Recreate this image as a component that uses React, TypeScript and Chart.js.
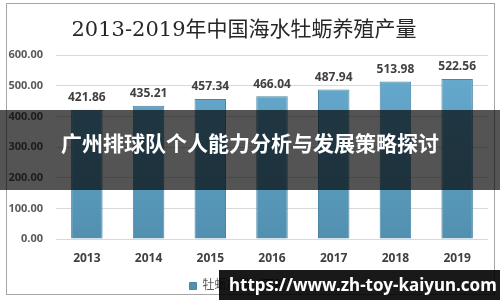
import React, { useEffect, useRef } from "react";
import { Chart, registerables } from "chart.js";

Chart.register(...registerables);

const titleText = "2013-2019年中国海水牡蛎养殖产量";
const categories = ["2013", "2014", "2015", "2016", "2017", "2018", "2019"];
const seriesName = "牡蛎产量（万吨）";
const values = [421.86, 435.21, 457.34, 466.04, 487.94, 513.98, 522.56];
const yMin = 0;
const yMax = 600;
const yStep = 100;
const bannerText = "广州排球队个人能力分析与发展策略探讨";
const watermarkText = "https://www.zh-toy-kaiyun.com";

const FONT = "'Open Sans', 'Noto Sans CJK SC', sans-serif";

const valueLabelPlugin = {
  id: "valueLabels",
  afterDatasetsDraw(chart: any) {
    const ctx = chart.ctx;
    const meta = chart.getDatasetMeta(0);
    ctx.save();
    ctx.font = `bold 12px ${FONT}`;
    ctx.fillStyle = "#404040";
    ctx.textAlign = "center";
    ctx.textBaseline = "middle";
    meta.data.forEach((bar: any, i: number) => {
      const v = chart.data.datasets[0].data[i] as number;
      ctx.fillText(v.toFixed(2), bar.x, bar.y - 12);
    });
    ctx.restore();
  },
};

const bgPlugin = {
  id: "whiteBg",
  beforeDraw(chart: any) {
    const ctx = chart.ctx;
    ctx.save();
    ctx.fillStyle = "#ffffff";
    ctx.fillRect(0, 0, chart.width, chart.height);
    ctx.restore();
  },
};

export default function App() {
  const ref = useRef<HTMLCanvasElement | null>(null);

  useEffect(() => {
    if (!ref.current) return;
    const chart = new Chart(ref.current, {
      type: "bar",
      data: {
        labels: categories,
        datasets: [
          {
            label: seriesName,
            data: values,
            backgroundColor: (c: any) => {
              const area = c.chart.chartArea;
              if (!area) return "#5c9fc0";
              const g = c.chart.ctx.createLinearGradient(0, area.top, 0, area.bottom);
              g.addColorStop(0, "#67acd0");
              g.addColorStop(1, "#5290b0");
              return g;
            },
            borderColor: "#4a86a3",
            borderWidth: 1,
            barPercentage: 0.51,
            categoryPercentage: 1,
          },
        ],
      },
      options: {
        responsive: false,
        animation: false,
        devicePixelRatio: 1,
        layout: { padding: { left: 0, right: 12, top: 0, bottom: -2 } },
        plugins: {
          title: {
            display: true,
            text: titleText,
            color: "#262626",
            font: { family: "'DejaVu Serif', 'Noto Sans CJK SC', serif", size: 21, weight: "normal" },
            padding: { top: 18, bottom: 12 },
          },
          legend: {
            display: true,
            position: "bottom",
            labels: {
              color: "#595959",
              font: { family: FONT, size: 12 },
              boxWidth: 7,
              boxHeight: 7,
              padding: 6,
            },
          },
          tooltip: { enabled: false },
        },
        scales: {
          x: {
            grid: { display: false, drawTicks: false },
            border: { display: false },
            ticks: {
              color: "#404040",
              font: { family: FONT, size: 12, weight: "bold" },
              padding: 12,
            },
            afterFit: (s: any) => {
              s.height = 35;
            },
          },
          y: {
            min: yMin,
            max: yMax,
            grid: { color: "#d9d9d9", drawTicks: false },
            border: { display: false },
            ticks: {
              stepSize: yStep,
              color: "#595959",
              font: { family: FONT, size: 11, weight: "bold" },
              padding: 13,
              callback: (v: any) => Number(v).toFixed(2),
            },
            afterFit: (s: any) => {
              s.width = 56;
            },
          },
        },
      },
      plugins: [bgPlugin, valueLabelPlugin],
    });
    return () => chart.destroy();
  }, []);

  return (
    <div style={{ position: "absolute", left: 0, top: 0, width: 500, height: 300, overflow: "hidden", background: "#fff" }}>
      <canvas ref={ref} width={500} height={300} style={{ position: "absolute", left: 0, top: 0, width: 500, height: 300 }} />
      <div
        style={{
          position: "absolute",
          left: 6,
          top: 3,
          width: 487,
          height: 290,
          border: "1px solid #a6a6a6",
          pointerEvents: "none",
        }}
      />
      <div
        style={{
          position: "absolute",
          left: 0,
          top: 110,
          width: 500,
          height: 80,
          background: "rgba(0,0,0,0.67)",
          color: "#fff",
          fontFamily: "'Noto Sans CJK SC', sans-serif",
          fontWeight: "bold",
          fontSize: 21,
          lineHeight: "64px",
          textAlign: "center",
          whiteSpace: "nowrap",
        }}
      >
        {bannerText}
      </div>
      <div
        style={{
          position: "absolute",
          left: 219,
          top: 270,
          width: 281,
          height: 30,
          background: "rgba(0,0,0,0.9)",
          color: "#fff",
          fontFamily: "'Noto Sans', sans-serif",
          fontWeight: "bold",
          fontSize: 17,
          lineHeight: "30px",
          paddingLeft: 10,
          boxSizing: "border-box",
          whiteSpace: "nowrap",
        }}
      >
        {watermarkText}
      </div>
    </div>
  );
}
